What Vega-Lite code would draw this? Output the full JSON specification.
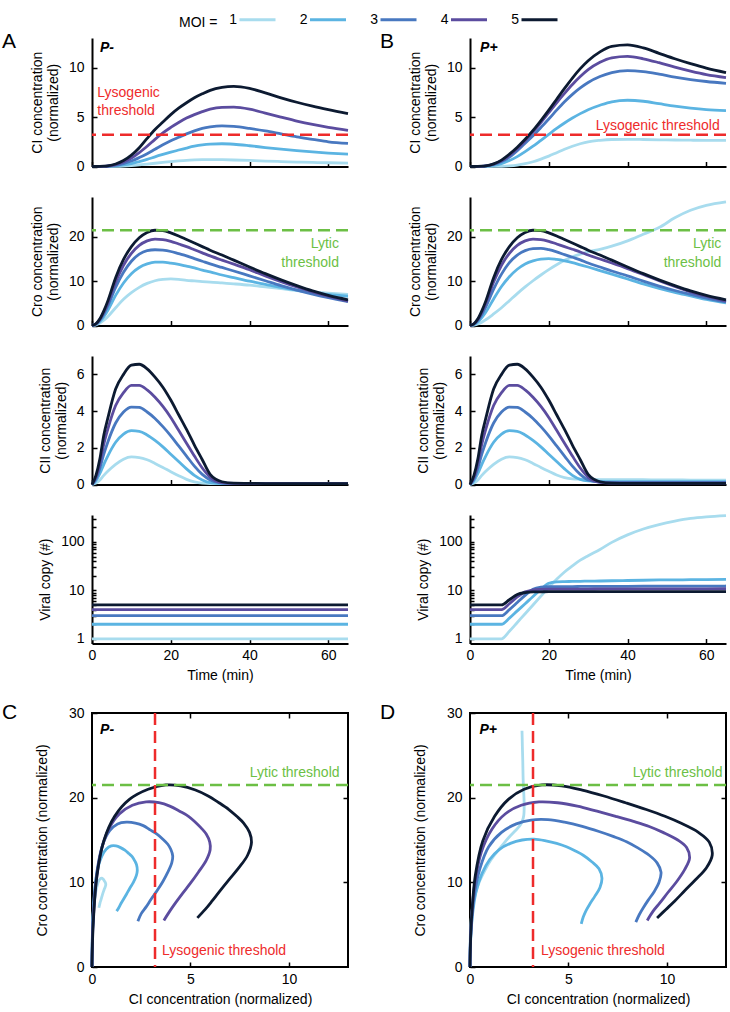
{
"$schema": "https://vega.github.io/schema/vega-lite/v6.json",
"padding": {"left": 1, "top": 0, "right": 3, "bottom": 3},
"config": {
  "font": "Liberation Sans",
  "view": {"stroke": null},
  "axis": {"domainColor": "black", "domainWidth": 2, "tickColor": "black", "tickWidth": 1.5, "tickSize": -5, "labelFontSize": 14, "labelColor": "black", "labelPadding": 13, "labelFlush": false, "titleFontSize": 14, "titleFontWeight": "normal", "titleColor": "black", "titlePadding": 8, "grid": false},
  "axisX": {"labelPadding": 10, "titlePadding": 6},
  "legend": {"orient": "none", "legendX": 87, "legendY": -38, "direction": "horizontal", "titleOrient": "left", "titleAnchor": "middle", "titleBaseline": "line-top", "titleLineHeight": 19.5, "titleFontSize": 14, "titleFontWeight": "normal", "titleColor": "black", "titlePadding": 20, "labelFontSize": 14, "labelColor": "black", "labelAlign": "right", "labelOffset": -40, "symbolType": "stroke", "symbolSize": 1296, "symbolStrokeWidth": 3, "columnPadding": 17.5, "padding": 0},
  "title": {"fontSize": 21, "fontWeight": "normal", "color": "black", "anchor": "start", "frame": "group"}
},
"datasets": {
"pm": [
{"m":1,"t":0,"ci":0,"cro":0,"cii":0,"v":1},{"m":1,"t":1,"ci":0,"cro":0.15,"cii":0.08,"v":1},{"m":1,"t":2,"ci":0,"cro":0.55,"cii":0.25,"v":1},{"m":1,"t":3,"ci":0.001,"cro":1.2,"cii":0.5,"v":1},{"m":1,"t":4,"ci":0.005,"cro":2.0,"cii":0.72,"v":1},{"m":1,"t":6,"ci":0.02,"cro":4.0,"cii":1.1,"v":1},{"m":1,"t":8,"ci":0.05,"cro":5.9,"cii":1.38,"v":1},{"m":1,"t":10,"ci":0.1,"cro":7.4,"cii":1.5,"v":1},{"m":1,"t":12,"ci":0.17,"cro":8.6,"cii":1.47,"v":1},{"m":1,"t":14,"ci":0.25,"cro":9.5,"cii":1.35,"v":1},{"m":1,"t":16,"ci":0.33,"cro":10.1,"cii":1.15,"v":1},{"m":1,"t":18,"ci":0.41,"cro":10.4,"cii":0.93,"v":1},{"m":1,"t":20,"ci":0.49,"cro":10.5,"cii":0.7,"v":1},{"m":1,"t":22,"ci":0.56,"cro":10.4,"cii":0.48,"v":1},{"m":1,"t":24,"ci":0.62,"cro":10.2,"cii":0.28,"v":1},{"m":1,"t":26,"ci":0.66,"cro":10.05,"cii":0.14,"v":1},{"m":1,"t":28,"ci":0.69,"cro":9.9,"cii":0.07,"v":1},{"m":1,"t":30,"ci":0.7,"cro":9.8,"cii":0.05,"v":1},{"m":1,"t":33,"ci":0.69,"cro":9.6,"cii":0.05,"v":1},{"m":1,"t":36,"ci":0.66,"cro":9.4,"cii":0.05,"v":1},{"m":1,"t":40,"ci":0.61,"cro":9.1,"cii":0.05,"v":1},{"m":1,"t":44,"ci":0.55,"cro":8.7,"cii":0.05,"v":1},{"m":1,"t":48,"ci":0.5,"cro":8.3,"cii":0.05,"v":1},{"m":1,"t":52,"ci":0.45,"cro":7.9,"cii":0.05,"v":1},{"m":1,"t":56,"ci":0.41,"cro":7.6,"cii":0.05,"v":1},{"m":1,"t":60,"ci":0.38,"cro":7.3,"cii":0.05,"v":1},{"m":1,"t":65,"ci":0.35,"cro":7.0,"cii":0.05,"v":1},
{"m":2,"t":0,"ci":0,"cro":0,"cii":0,"v":2},{"m":2,"t":1,"ci":0,"cro":0.25,"cii":0.2,"v":2},{"m":2,"t":2,"ci":0.002,"cro":0.9,"cii":0.6,"v":2},{"m":2,"t":3,"ci":0.008,"cro":2.0,"cii":1.1,"v":2},{"m":2,"t":4,"ci":0.02,"cro":3.4,"cii":1.55,"v":2},{"m":2,"t":6,"ci":0.07,"cro":6.8,"cii":2.3,"v":2},{"m":2,"t":8,"ci":0.16,"cro":9.6,"cii":2.75,"v":2},{"m":2,"t":10,"ci":0.3,"cro":11.7,"cii":2.93,"v":2},{"m":2,"t":12,"ci":0.5,"cro":13.1,"cii":2.9,"v":2},{"m":2,"t":14,"ci":0.72,"cro":13.9,"cii":2.7,"v":2},{"m":2,"t":16,"ci":0.98,"cro":14.3,"cii":2.4,"v":2},{"m":2,"t":18,"ci":1.22,"cro":14.3,"cii":2.05,"v":2},{"m":2,"t":20,"ci":1.45,"cro":14.1,"cii":1.65,"v":2},{"m":2,"t":22,"ci":1.67,"cro":13.8,"cii":1.25,"v":2},{"m":2,"t":24,"ci":1.87,"cro":13.4,"cii":0.85,"v":2},{"m":2,"t":26,"ci":2.05,"cro":13.0,"cii":0.5,"v":2},{"m":2,"t":28,"ci":2.18,"cro":12.5,"cii":0.25,"v":2},{"m":2,"t":30,"ci":2.26,"cro":12.1,"cii":0.1,"v":2},{"m":2,"t":33,"ci":2.3,"cro":11.4,"cii":0.05,"v":2},{"m":2,"t":36,"ci":2.25,"cro":10.8,"cii":0.05,"v":2},{"m":2,"t":40,"ci":2.1,"cro":10.0,"cii":0.05,"v":2},{"m":2,"t":44,"ci":1.92,"cro":9.3,"cii":0.05,"v":2},{"m":2,"t":48,"ci":1.75,"cro":8.6,"cii":0.05,"v":2},{"m":2,"t":52,"ci":1.6,"cro":8.0,"cii":0.05,"v":2},{"m":2,"t":56,"ci":1.47,"cro":7.5,"cii":0.05,"v":2},{"m":2,"t":60,"ci":1.36,"cro":7.0,"cii":0.05,"v":2},{"m":2,"t":65,"ci":1.25,"cro":6.6,"cii":0.05,"v":2},
{"m":3,"t":0,"ci":0,"cro":0,"cii":0,"v":3},{"m":3,"t":1,"ci":0,"cro":0.3,"cii":0.3,"v":3},{"m":3,"t":2,"ci":0.003,"cro":1.2,"cii":0.9,"v":3},{"m":3,"t":3,"ci":0.012,"cro":2.6,"cii":1.65,"v":3},{"m":3,"t":4,"ci":0.03,"cro":4.4,"cii":2.3,"v":3},{"m":3,"t":6,"ci":0.13,"cro":8.6,"cii":3.35,"v":3},{"m":3,"t":8,"ci":0.3,"cro":12.0,"cii":3.95,"v":3},{"m":3,"t":10,"ci":0.55,"cro":14.5,"cii":4.22,"v":3},{"m":3,"t":12,"ci":0.9,"cro":16.1,"cii":4.2,"v":3},{"m":3,"t":14,"ci":1.3,"cro":16.9,"cii":3.95,"v":3},{"m":3,"t":16,"ci":1.75,"cro":17.1,"cii":3.6,"v":3},{"m":3,"t":18,"ci":2.2,"cro":17.0,"cii":3.15,"v":3},{"m":3,"t":20,"ci":2.6,"cro":16.7,"cii":2.65,"v":3},{"m":3,"t":22,"ci":2.95,"cro":16.2,"cii":2.1,"v":3},{"m":3,"t":24,"ci":3.3,"cro":15.7,"cii":1.55,"v":3},{"m":3,"t":26,"ci":3.6,"cro":15.1,"cii":1.0,"v":3},{"m":3,"t":28,"ci":3.85,"cro":14.5,"cii":0.55,"v":3},{"m":3,"t":30,"ci":4.0,"cro":13.9,"cii":0.25,"v":3},{"m":3,"t":33,"ci":4.1,"cro":13.1,"cii":0.08,"v":3},{"m":3,"t":36,"ci":4.05,"cro":12.3,"cii":0.05,"v":3},{"m":3,"t":40,"ci":3.85,"cro":11.2,"cii":0.05,"v":3},{"m":3,"t":44,"ci":3.6,"cro":10.1,"cii":0.05,"v":3},{"m":3,"t":48,"ci":3.3,"cro":9.0,"cii":0.05,"v":3},{"m":3,"t":52,"ci":3.0,"cro":8.0,"cii":0.05,"v":3},{"m":3,"t":56,"ci":2.75,"cro":7.1,"cii":0.05,"v":3},{"m":3,"t":60,"ci":2.5,"cro":6.3,"cii":0.05,"v":3},{"m":3,"t":65,"ci":2.33,"cro":5.4,"cii":0.05,"v":3},
{"m":4,"t":0,"ci":0,"cro":0,"cii":0,"v":4},{"m":4,"t":1,"ci":0,"cro":0.35,"cii":0.4,"v":4},{"m":4,"t":2,"ci":0.005,"cro":1.35,"cii":1.15,"v":4},{"m":4,"t":3,"ci":0.02,"cro":3.0,"cii":2.2,"v":4},{"m":4,"t":4,"ci":0.05,"cro":5.0,"cii":3.0,"v":4},{"m":4,"t":6,"ci":0.2,"cro":9.8,"cii":4.3,"v":4},{"m":4,"t":8,"ci":0.45,"cro":13.6,"cii":5.0,"v":4},{"m":4,"t":10,"ci":0.85,"cro":16.3,"cii":5.4,"v":4},{"m":4,"t":12,"ci":1.4,"cro":18.1,"cii":5.4,"v":4},{"m":4,"t":14,"ci":2.05,"cro":19.1,"cii":5.15,"v":4},{"m":4,"t":16,"ci":2.75,"cro":19.5,"cii":4.75,"v":4},{"m":4,"t":18,"ci":3.4,"cro":19.4,"cii":4.25,"v":4},{"m":4,"t":20,"ci":3.95,"cro":19.0,"cii":3.65,"v":4},{"m":4,"t":22,"ci":4.45,"cro":18.4,"cii":2.95,"v":4},{"m":4,"t":24,"ci":4.9,"cro":17.8,"cii":2.25,"v":4},{"m":4,"t":26,"ci":5.25,"cro":17.1,"cii":1.55,"v":4},{"m":4,"t":28,"ci":5.55,"cro":16.4,"cii":0.9,"v":4},{"m":4,"t":30,"ci":5.8,"cro":15.7,"cii":0.4,"v":4},{"m":4,"t":33,"ci":5.98,"cro":14.75,"cii":0.1,"v":4},{"m":4,"t":36,"ci":6.0,"cro":13.85,"cii":0.06,"v":4},{"m":4,"t":40,"ci":5.8,"cro":12.6,"cii":0.05,"v":4},{"m":4,"t":44,"ci":5.4,"cro":11.2,"cii":0.05,"v":4},{"m":4,"t":48,"ci":5.0,"cro":9.9,"cii":0.05,"v":4},{"m":4,"t":52,"ci":4.6,"cro":8.7,"cii":0.05,"v":4},{"m":4,"t":56,"ci":4.25,"cro":7.6,"cii":0.05,"v":4},{"m":4,"t":60,"ci":3.95,"cro":6.6,"cii":0.05,"v":4},{"m":4,"t":65,"ci":3.65,"cro":5.5,"cii":0.05,"v":4},
{"m":5,"t":0,"ci":0,"cro":0,"cii":0,"v":5},{"m":5,"t":1,"ci":0,"cro":0.4,"cii":0.5,"v":5},{"m":5,"t":2,"ci":0.01,"cro":1.5,"cii":1.4,"v":5},{"m":5,"t":3,"ci":0.03,"cro":3.3,"cii":2.7,"v":5},{"m":5,"t":4,"ci":0.07,"cro":5.5,"cii":3.6,"v":5},{"m":5,"t":6,"ci":0.25,"cro":10.8,"cii":5.2,"v":5},{"m":5,"t":8,"ci":0.6,"cro":14.9,"cii":6.0,"v":5},{"m":5,"t":10,"ci":1.15,"cro":17.8,"cii":6.5,"v":5},{"m":5,"t":12,"ci":1.9,"cro":19.8,"cii":6.55,"v":5},{"m":5,"t":14,"ci":2.85,"cro":21.0,"cii":6.3,"v":5},{"m":5,"t":16,"ci":3.75,"cro":21.5,"cii":5.85,"v":5},{"m":5,"t":18,"ci":4.5,"cro":21.4,"cii":5.3,"v":5},{"m":5,"t":20,"ci":5.25,"cro":20.9,"cii":4.6,"v":5},{"m":5,"t":22,"ci":5.9,"cro":20.2,"cii":3.8,"v":5},{"m":5,"t":24,"ci":6.45,"cro":19.4,"cii":3.0,"v":5},{"m":5,"t":26,"ci":6.95,"cro":18.6,"cii":2.15,"v":5},{"m":5,"t":28,"ci":7.35,"cro":17.8,"cii":1.35,"v":5},{"m":5,"t":30,"ci":7.7,"cro":17.0,"cii":0.55,"v":5},{"m":5,"t":33,"ci":8.0,"cro":15.9,"cii":0.15,"v":5},{"m":5,"t":36,"ci":8.1,"cro":14.75,"cii":0.07,"v":5},{"m":5,"t":40,"ci":7.9,"cro":13.2,"cii":0.06,"v":5},{"m":5,"t":44,"ci":7.45,"cro":11.7,"cii":0.05,"v":5},{"m":5,"t":48,"ci":6.95,"cro":10.3,"cii":0.05,"v":5},{"m":5,"t":52,"ci":6.5,"cro":9.0,"cii":0.05,"v":5},{"m":5,"t":56,"ci":6.1,"cro":7.8,"cii":0.05,"v":5},{"m":5,"t":60,"ci":5.75,"cro":6.8,"cii":0.05,"v":5},{"m":5,"t":65,"ci":5.35,"cro":5.8,"cii":0.05,"v":5}
],
"pp": [
{"m":1,"t":0,"ci":0,"cro":0,"cii":0,"v":1},{"m":1,"t":1,"ci":0,"cro":0.1,"cii":0.08,"v":1},{"m":1,"t":2,"ci":0,"cro":0.35,"cii":0.25,"v":1},{"m":1,"t":3,"ci":0,"cro":0.75,"cii":0.5,"v":1},{"m":1,"t":4,"ci":0,"cro":1.3,"cii":0.72,"v":1},{"m":1,"t":6,"ci":0.005,"cro":2.6,"cii":1.1,"v":1},{"m":1,"t":8,"ci":0.02,"cro":4.0,"cii":1.38,"v":1},{"m":1,"t":10,"ci":0.06,"cro":5.6,"cii":1.5,"v":1.43},{"m":1,"t":12,"ci":0.14,"cro":7.2,"cii":1.47,"v":2.17},{"m":1,"t":14,"ci":0.28,"cro":8.7,"cii":1.35,"v":3.3},{"m":1,"t":16,"ci":0.48,"cro":10.1,"cii":1.15,"v":5.0},{"m":1,"t":18,"ci":0.75,"cro":11.4,"cii":0.93,"v":7.6},{"m":1,"t":20,"ci":1.05,"cro":12.6,"cii":0.72,"v":11.6},{"m":1,"t":22,"ci":1.4,"cro":13.7,"cii":0.52,"v":17},{"m":1,"t":24,"ci":1.75,"cro":14.7,"cii":0.38,"v":24},{"m":1,"t":26,"ci":2.05,"cro":15.5,"cii":0.31,"v":32},{"m":1,"t":28,"ci":2.3,"cro":16.1,"cii":0.29,"v":42},{"m":1,"t":30,"ci":2.5,"cro":16.6,"cii":0.28,"v":52},{"m":1,"t":33,"ci":2.65,"cro":17.2,"cii":0.27,"v":70},{"m":1,"t":36,"ci":2.73,"cro":17.9,"cii":0.27,"v":98},{"m":1,"t":40,"ci":2.75,"cro":19.1,"cii":0.26,"v":140},{"m":1,"t":44,"ci":2.73,"cro":20.6,"cii":0.26,"v":185},{"m":1,"t":48,"ci":2.7,"cro":22.1,"cii":0.25,"v":228},{"m":1,"t":52,"ci":2.68,"cro":24.3,"cii":0.25,"v":268},{"m":1,"t":56,"ci":2.66,"cro":26.0,"cii":0.24,"v":305},{"m":1,"t":60,"ci":2.65,"cro":27.1,"cii":0.24,"v":330},{"m":1,"t":65,"ci":2.64,"cro":27.9,"cii":0.23,"v":350},
{"m":2,"t":0,"ci":0,"cro":0,"cii":0,"v":2},{"m":2,"t":1,"ci":0,"cro":0.2,"cii":0.2,"v":2},{"m":2,"t":2,"ci":0.002,"cro":0.8,"cii":0.6,"v":2},{"m":2,"t":3,"ci":0.008,"cro":1.8,"cii":1.1,"v":2},{"m":2,"t":4,"ci":0.03,"cro":3.0,"cii":1.55,"v":2},{"m":2,"t":6,"ci":0.12,"cro":6.0,"cii":2.3,"v":2},{"m":2,"t":8,"ci":0.3,"cro":8.8,"cii":2.75,"v":2},{"m":2,"t":10,"ci":0.6,"cro":11.0,"cii":2.93,"v":2.67},{"m":2,"t":12,"ci":1.0,"cro":12.7,"cii":2.9,"v":3.77},{"m":2,"t":14,"ci":1.5,"cro":13.9,"cii":2.7,"v":5.3},{"m":2,"t":16,"ci":2.05,"cro":14.6,"cii":2.4,"v":7.5},{"m":2,"t":18,"ci":2.65,"cro":15.0,"cii":2.05,"v":10.5},{"m":2,"t":20,"ci":3.25,"cro":15.1,"cii":1.65,"v":14.0},{"m":2,"t":22,"ci":3.85,"cro":14.9,"cii":1.25,"v":15.0},{"m":2,"t":24,"ci":4.4,"cro":14.6,"cii":0.85,"v":15.2},{"m":2,"t":26,"ci":4.9,"cro":14.2,"cii":0.5,"v":15.3},{"m":2,"t":28,"ci":5.35,"cro":13.7,"cii":0.28,"v":15.4},{"m":2,"t":30,"ci":5.75,"cro":13.2,"cii":0.2,"v":15.5},{"m":2,"t":33,"ci":6.2,"cro":12.4,"cii":0.17,"v":15.6},{"m":2,"t":36,"ci":6.55,"cro":11.6,"cii":0.16,"v":15.8},{"m":2,"t":40,"ci":6.7,"cro":10.5,"cii":0.16,"v":16.0},{"m":2,"t":44,"ci":6.6,"cro":9.4,"cii":0.15,"v":16.2},{"m":2,"t":48,"ci":6.35,"cro":8.4,"cii":0.15,"v":16.4},{"m":2,"t":52,"ci":6.1,"cro":7.5,"cii":0.15,"v":16.5},{"m":2,"t":56,"ci":5.9,"cro":6.7,"cii":0.15,"v":16.6},{"m":2,"t":60,"ci":5.75,"cro":5.9,"cii":0.15,"v":16.7},{"m":2,"t":65,"ci":5.65,"cro":5.1,"cii":0.15,"v":16.8},
{"m":3,"t":0,"ci":0,"cro":0,"cii":0,"v":3},{"m":3,"t":1,"ci":0,"cro":0.3,"cii":0.3,"v":3},{"m":3,"t":2,"ci":0.003,"cro":1.15,"cii":0.9,"v":3},{"m":3,"t":3,"ci":0.015,"cro":2.5,"cii":1.65,"v":3},{"m":3,"t":4,"ci":0.05,"cro":4.2,"cii":2.3,"v":3},{"m":3,"t":6,"ci":0.2,"cro":8.2,"cii":3.35,"v":3},{"m":3,"t":8,"ci":0.5,"cro":11.6,"cii":3.95,"v":3},{"m":3,"t":10,"ci":0.95,"cro":14.2,"cii":4.22,"v":4.0},{"m":3,"t":12,"ci":1.6,"cro":15.9,"cii":4.2,"v":5.6},{"m":3,"t":14,"ci":2.35,"cro":16.9,"cii":3.95,"v":7.9},{"m":3,"t":16,"ci":3.1,"cro":17.35,"cii":3.6,"v":10.5},{"m":3,"t":18,"ci":3.95,"cro":17.4,"cii":3.15,"v":11.6},{"m":3,"t":20,"ci":4.8,"cro":17.1,"cii":2.65,"v":11.9},{"m":3,"t":22,"ci":5.7,"cro":16.6,"cii":2.1,"v":12.0},{"m":3,"t":24,"ci":6.55,"cro":16.0,"cii":1.55,"v":12.0},{"m":3,"t":26,"ci":7.3,"cro":15.4,"cii":1.0,"v":12.0},{"m":3,"t":28,"ci":7.95,"cro":14.8,"cii":0.55,"v":12.05},{"m":3,"t":30,"ci":8.5,"cro":14.1,"cii":0.25,"v":12.1},{"m":3,"t":33,"ci":9.1,"cro":13.2,"cii":0.13,"v":12.1},{"m":3,"t":36,"ci":9.5,"cro":12.3,"cii":0.11,"v":12.1},{"m":3,"t":40,"ci":9.7,"cro":11.2,"cii":0.11,"v":12.15},{"m":3,"t":44,"ci":9.6,"cro":10.0,"cii":0.11,"v":12.2},{"m":3,"t":48,"ci":9.35,"cro":8.9,"cii":0.11,"v":12.2},{"m":3,"t":52,"ci":9.05,"cro":7.9,"cii":0.11,"v":12.2},{"m":3,"t":56,"ci":8.8,"cro":7.0,"cii":0.11,"v":12.25},{"m":3,"t":60,"ci":8.6,"cro":6.2,"cii":0.11,"v":12.25},{"m":3,"t":65,"ci":8.42,"cro":5.3,"cii":0.11,"v":12.3},
{"m":4,"t":0,"ci":0,"cro":0,"cii":0,"v":4},{"m":4,"t":1,"ci":0,"cro":0.35,"cii":0.4,"v":4},{"m":4,"t":2,"ci":0.005,"cro":1.35,"cii":1.15,"v":4},{"m":4,"t":3,"ci":0.02,"cro":3.0,"cii":2.2,"v":4},{"m":4,"t":4,"ci":0.06,"cro":5.0,"cii":3.0,"v":4},{"m":4,"t":6,"ci":0.24,"cro":9.8,"cii":4.3,"v":4},{"m":4,"t":8,"ci":0.58,"cro":13.6,"cii":5.0,"v":4},{"m":4,"t":10,"ci":1.12,"cro":16.3,"cii":5.4,"v":5.3},{"m":4,"t":12,"ci":1.8,"cro":18.1,"cii":5.4,"v":7.3},{"m":4,"t":14,"ci":2.6,"cro":19.1,"cii":5.15,"v":9.3},{"m":4,"t":16,"ci":3.5,"cro":19.5,"cii":4.75,"v":10.2},{"m":4,"t":18,"ci":4.45,"cro":19.4,"cii":4.25,"v":10.5},{"m":4,"t":20,"ci":5.45,"cro":19.0,"cii":3.65,"v":10.6},{"m":4,"t":22,"ci":6.45,"cro":18.4,"cii":2.95,"v":10.6},{"m":4,"t":24,"ci":7.4,"cro":17.8,"cii":2.25,"v":10.6},{"m":4,"t":26,"ci":8.3,"cro":17.2,"cii":1.55,"v":10.6},{"m":4,"t":28,"ci":9.1,"cro":16.6,"cii":0.9,"v":10.65},{"m":4,"t":30,"ci":9.8,"cro":15.9,"cii":0.4,"v":10.65},{"m":4,"t":33,"ci":10.55,"cro":15.0,"cii":0.12,"v":10.7},{"m":4,"t":36,"ci":11.0,"cro":14.1,"cii":0.08,"v":10.7},{"m":4,"t":40,"ci":11.15,"cro":12.85,"cii":0.08,"v":10.7},{"m":4,"t":44,"ci":10.9,"cro":11.5,"cii":0.08,"v":10.7},{"m":4,"t":48,"ci":10.5,"cro":10.1,"cii":0.08,"v":10.7},{"m":4,"t":52,"ci":10.05,"cro":8.8,"cii":0.08,"v":10.75},{"m":4,"t":56,"ci":9.65,"cro":7.6,"cii":0.08,"v":10.75},{"m":4,"t":60,"ci":9.3,"cro":6.6,"cii":0.08,"v":10.75},{"m":4,"t":65,"ci":9.0,"cro":5.5,"cii":0.08,"v":10.8},
{"m":5,"t":0,"ci":0,"cro":0,"cii":0,"v":5},{"m":5,"t":1,"ci":0,"cro":0.4,"cii":0.5,"v":5},{"m":5,"t":2,"ci":0.01,"cro":1.5,"cii":1.4,"v":5},{"m":5,"t":3,"ci":0.03,"cro":3.3,"cii":2.7,"v":5},{"m":5,"t":4,"ci":0.07,"cro":5.5,"cii":3.6,"v":5},{"m":5,"t":6,"ci":0.27,"cro":10.8,"cii":5.2,"v":5},{"m":5,"t":8,"ci":0.65,"cro":14.9,"cii":6.0,"v":5},{"m":5,"t":10,"ci":1.25,"cro":17.8,"cii":6.5,"v":6.4},{"m":5,"t":12,"ci":1.95,"cro":19.8,"cii":6.55,"v":8.2},{"m":5,"t":14,"ci":2.75,"cro":21.0,"cii":6.3,"v":9.0},{"m":5,"t":16,"ci":3.65,"cro":21.5,"cii":5.85,"v":9.3},{"m":5,"t":18,"ci":4.65,"cro":21.4,"cii":5.3,"v":9.35},{"m":5,"t":20,"ci":5.7,"cro":20.9,"cii":4.6,"v":9.4},{"m":5,"t":22,"ci":6.8,"cro":20.2,"cii":3.8,"v":9.4},{"m":5,"t":24,"ci":7.9,"cro":19.4,"cii":3.0,"v":9.4},{"m":5,"t":26,"ci":8.95,"cro":18.6,"cii":2.15,"v":9.4},{"m":5,"t":28,"ci":9.9,"cro":17.8,"cii":1.35,"v":9.4},{"m":5,"t":30,"ci":10.7,"cro":17.0,"cii":0.55,"v":9.4},{"m":5,"t":33,"ci":11.6,"cro":15.9,"cii":0.15,"v":9.4},{"m":5,"t":36,"ci":12.15,"cro":14.75,"cii":0.07,"v":9.4},{"m":5,"t":40,"ci":12.3,"cro":13.2,"cii":0.06,"v":9.4},{"m":5,"t":44,"ci":12.0,"cro":11.7,"cii":0.06,"v":9.4},{"m":5,"t":48,"ci":11.45,"cro":10.3,"cii":0.06,"v":9.4},{"m":5,"t":52,"ci":10.9,"cro":9.0,"cii":0.06,"v":9.4},{"m":5,"t":56,"ci":10.4,"cro":7.8,"cii":0.06,"v":9.4},{"m":5,"t":60,"ci":9.95,"cro":6.8,"cii":0.06,"v":9.4},{"m":5,"t":65,"ci":9.5,"cro":5.8,"cii":0.06,"v":9.4}
]
},
"spacing": 18,
"vconcat": [
{"columns": 2, "bounds": "flush", "spacing": {"row": 30, "column": 122},
 "concat": [
{"width": 256, "height": 128.5,
 "title": {"text": "A", "dx": -90, "dy": 31, "offset": 0, "baseline": "alphabetic"},
 "resolve": {"axis": {"x": "independent", "y": "independent"}},
 "layer": [
  {"data": {"name": "pm"}, "mark": {"type": "line", "interpolate": "monotone", "strokeWidth": 2.8},
   "encoding": {"x": {"field": "t", "type": "quantitative", "scale": {"domain": [0, 65], "nice": false}, "axis": {"values": [0, 20, 40, 60], "labels": false, "title": null}},
    "y": {"field": "ci", "type": "quantitative", "scale": {"domain": [0, 13], "nice": false}, "axis": {"values": [0, 5, 10], "title": ["CI concentration", "(normalized)"]}},
    "color": {"field": "m", "type": "ordinal", "title": "MOI =", "scale": {"domain": [1, 2, 3, 4, 5], "range": ["#a8dcee", "#5bb4e2", "#4878c0", "#5b4c9f", "#0c1a31"]}}}},
  {"data": {"values": [{}]}, "mark": {"type": "rule", "color": "#ee2b2b", "strokeWidth": 2.5, "strokeDash": [12, 6]}, "encoding": {"y": {"datum": 3.2, "axis": null}}},
  {"data": {"values": [{"t": 1.35, "ci": 7.02, "s": "Lysogenic"}, {"t": 1.35, "ci": 5.18, "s": "threshold"}]}, "mark": {"type": "text", "align": "left", "baseline": "alphabetic", "color": "#ee2b2b", "fontSize": 14}, "encoding": {"x": {"field": "t", "type": "quantitative", "axis": null}, "y": {"field": "ci", "type": "quantitative", "axis": null}, "text": {"field": "s"}}},
  {"data": {"values": [{"t": 2, "ci": 11.58, "s": "P-"}]}, "mark": {"type": "text", "align": "left", "baseline": "alphabetic", "fontSize": 14, "fontWeight": "bold", "fontStyle": "italic", "color": "black"}, "encoding": {"x": {"field": "t", "type": "quantitative", "axis": null}, "y": {"field": "ci", "type": "quantitative", "axis": null}, "text": {"field": "s"}}}
 ]},
{"width": 256, "height": 128.5,
 "title": {"text": "B", "dx": -90, "dy": 31, "offset": 0, "baseline": "alphabetic"},
 "resolve": {"axis": {"x": "independent", "y": "independent"}},
 "layer": [
  {"data": {"name": "pp"}, "mark": {"type": "line", "interpolate": "monotone", "strokeWidth": 2.8},
   "encoding": {"x": {"field": "t", "type": "quantitative", "scale": {"domain": [0, 65], "nice": false}, "axis": {"values": [0, 20, 40, 60], "labels": false, "title": null}},
    "y": {"field": "ci", "type": "quantitative", "scale": {"domain": [0, 13], "nice": false}, "axis": {"values": [0, 5, 10], "title": ["CI concentration", "(normalized)"]}},
    "color": {"field": "m", "type": "ordinal", "title": "MOI =", "scale": {"domain": [1, 2, 3, 4, 5], "range": ["#a8dcee", "#5bb4e2", "#4878c0", "#5b4c9f", "#0c1a31"]}}}},
  {"data": {"values": [{}]}, "mark": {"type": "rule", "color": "#ee2b2b", "strokeWidth": 2.5, "strokeDash": [12, 6]}, "encoding": {"y": {"datum": 3.2, "axis": null}}},
  {"data": {"values": [{"t": 63.4, "ci": 3.7, "s": "Lysogenic threshold"}]}, "mark": {"type": "text", "align": "right", "baseline": "alphabetic", "color": "#ee2b2b", "fontSize": 14}, "encoding": {"x": {"field": "t", "type": "quantitative", "axis": null}, "y": {"field": "ci", "type": "quantitative", "axis": null}, "text": {"field": "s"}}},
  {"data": {"values": [{"t": 2.55, "ci": 11.58, "s": "P+"}]}, "mark": {"type": "text", "align": "left", "baseline": "alphabetic", "fontSize": 14, "fontWeight": "bold", "fontStyle": "italic", "color": "black"}, "encoding": {"x": {"field": "t", "type": "quantitative", "axis": null}, "y": {"field": "ci", "type": "quantitative", "axis": null}, "text": {"field": "s"}}}
 ]},
{"width": 256, "height": 128.5,
 "resolve": {"axis": {"x": "independent", "y": "independent"}},
 "layer": [
  {"data": {"name": "pm"}, "mark": {"type": "line", "interpolate": "monotone", "strokeWidth": 2.8},
   "encoding": {"x": {"field": "t", "type": "quantitative", "scale": {"domain": [0, 65], "nice": false}, "axis": {"values": [0, 20, 40, 60], "labels": false, "title": null}},
    "y": {"field": "cro", "type": "quantitative", "scale": {"domain": [0, 29], "nice": false}, "axis": {"values": [0, 10, 20], "title": ["Cro concentration", "(normalized)"]}},
    "color": {"field": "m", "type": "ordinal", "title": "MOI =", "scale": {"domain": [1, 2, 3, 4, 5], "range": ["#a8dcee", "#5bb4e2", "#4878c0", "#5b4c9f", "#0c1a31"]}}}},
  {"data": {"values": [{}]}, "mark": {"type": "rule", "color": "#6cbf45", "strokeWidth": 2.5, "strokeDash": [12, 6]}, "encoding": {"y": {"datum": 21.5, "axis": null}}},
  {"data": {"values": [{"t": 62.7, "cro": 17.4, "s": "Lytic"}, {"t": 62.7, "cro": 13.3, "s": "threshold"}]}, "mark": {"type": "text", "align": "right", "baseline": "alphabetic", "color": "#6cbf45", "fontSize": 14}, "encoding": {"x": {"field": "t", "type": "quantitative", "axis": null}, "y": {"field": "cro", "type": "quantitative", "axis": null}, "text": {"field": "s"}}}
 ]},
{"width": 256, "height": 128.5,
 "resolve": {"axis": {"x": "independent", "y": "independent"}},
 "layer": [
  {"data": {"name": "pp"}, "mark": {"type": "line", "interpolate": "monotone", "strokeWidth": 2.8},
   "encoding": {"x": {"field": "t", "type": "quantitative", "scale": {"domain": [0, 65], "nice": false}, "axis": {"values": [0, 20, 40, 60], "labels": false, "title": null}},
    "y": {"field": "cro", "type": "quantitative", "scale": {"domain": [0, 29], "nice": false}, "axis": {"values": [0, 10, 20], "title": ["Cro concentration", "(normalized)"]}},
    "color": {"field": "m", "type": "ordinal", "title": "MOI =", "scale": {"domain": [1, 2, 3, 4, 5], "range": ["#a8dcee", "#5bb4e2", "#4878c0", "#5b4c9f", "#0c1a31"]}}}},
  {"data": {"values": [{}]}, "mark": {"type": "rule", "color": "#6cbf45", "strokeWidth": 2.5, "strokeDash": [12, 6]}, "encoding": {"y": {"datum": 21.5, "axis": null}}},
  {"data": {"values": [{"t": 63.8, "cro": 17.4, "s": "Lytic"}, {"t": 63.8, "cro": 13.3, "s": "threshold"}]}, "mark": {"type": "text", "align": "right", "baseline": "alphabetic", "color": "#6cbf45", "fontSize": 14}, "encoding": {"x": {"field": "t", "type": "quantitative", "axis": null}, "y": {"field": "cro", "type": "quantitative", "axis": null}, "text": {"field": "s"}}}
 ]},
{"width": 256, "height": 128.5, "data": {"name": "pm"}, "mark": {"type": "line", "interpolate": "monotone", "strokeWidth": 2.8},
 "encoding": {"x": {"field": "t", "type": "quantitative", "scale": {"domain": [0, 65], "nice": false}, "axis": {"values": [0, 20, 40, 60], "labels": false, "title": null}},
  "y": {"field": "cii", "type": "quantitative", "scale": {"domain": [0, 7], "nice": false}, "axis": {"values": [0, 2, 4, 6], "title": ["CII concentration", "(normalized)"]}},
  "color": {"field": "m", "type": "ordinal", "title": "MOI =", "scale": {"domain": [1, 2, 3, 4, 5], "range": ["#a8dcee", "#5bb4e2", "#4878c0", "#5b4c9f", "#0c1a31"]}}}},
{"width": 256, "height": 128.5, "data": {"name": "pp"}, "mark": {"type": "line", "interpolate": "monotone", "strokeWidth": 2.8},
 "encoding": {"x": {"field": "t", "type": "quantitative", "scale": {"domain": [0, 65], "nice": false}, "axis": {"values": [0, 20, 40, 60], "labels": false, "title": null}},
  "y": {"field": "cii", "type": "quantitative", "scale": {"domain": [0, 7], "nice": false}, "axis": {"values": [0, 2, 4, 6], "title": ["CII concentration", "(normalized)"]}},
  "color": {"field": "m", "type": "ordinal", "title": "MOI =", "scale": {"domain": [1, 2, 3, 4, 5], "range": ["#a8dcee", "#5bb4e2", "#4878c0", "#5b4c9f", "#0c1a31"]}}}},
{"width": 256, "height": 128.5, "data": {"name": "pm"}, "mark": {"type": "line", "interpolate": "monotone", "strokeWidth": 2.8},
 "encoding": {"x": {"field": "t", "type": "quantitative", "scale": {"domain": [0, 65], "nice": false}, "axis": {"values": [0, 20, 40, 60], "title": "Time (min)"}},
  "y": {"field": "v", "type": "quantitative", "scale": {"type": "log", "domain": [0.8, 360], "nice": false}, "axis": {"values": [1, 2, 3, 4, 5, 6, 7, 8, 9, 10, 20, 30, 40, 50, 60, 70, 80, 90, 100, 200, 300], "format": "d", "labelExpr": "datum.value == 1 || datum.value == 10 || datum.value == 100 ? datum.label : ''", "tickSize": -4, "labelPadding": 12, "title": "Viral copy (#)"}},
  "color": {"field": "m", "type": "ordinal", "title": "MOI =", "scale": {"domain": [1, 2, 3, 4, 5], "range": ["#a8dcee", "#5bb4e2", "#4878c0", "#5b4c9f", "#0c1a31"]}}}},
{"width": 256, "height": 128.5, "data": {"name": "pp"}, "mark": {"type": "line", "interpolate": "monotone", "strokeWidth": 2.8},
 "encoding": {"x": {"field": "t", "type": "quantitative", "scale": {"domain": [0, 65], "nice": false}, "axis": {"values": [0, 20, 40, 60], "title": "Time (min)"}},
  "y": {"field": "v", "type": "quantitative", "scale": {"type": "log", "domain": [0.8, 360], "nice": false}, "axis": {"values": [1, 2, 3, 4, 5, 6, 7, 8, 9, 10, 20, 30, 40, 50, 60, 70, 80, 90, 100, 200, 300], "format": "d", "labelExpr": "datum.value == 1 || datum.value == 10 || datum.value == 100 ? datum.label : ''", "tickSize": -4, "labelPadding": 12, "title": "Viral copy (#)"}},
  "color": {"field": "m", "type": "ordinal", "title": "MOI =", "scale": {"domain": [1, 2, 3, 4, 5], "range": ["#a8dcee", "#5bb4e2", "#4878c0", "#5b4c9f", "#0c1a31"]}}}}
 ]},
{"bounds": "flush", "spacing": 122,
 "hconcat": [
{"width": 256, "height": 254, "view": {"stroke": "black", "strokeWidth": 2},
 "title": {"text": "C", "dx": -90, "dy": 34, "offset": 0, "baseline": "alphabetic"},
 "resolve": {"axis": {"x": "independent", "y": "independent"}},
 "layer": [
  {"data": {"name": "pm"}, "mark": {"type": "line", "interpolate": "catmull-rom", "strokeWidth": 2.8},
   "encoding": {"x": {"field": "ci", "type": "quantitative", "scale": {"domain": [0, 13], "nice": false}, "axis": {"values": [0, 5, 10], "domain": false, "title": "CI concentration (normalized)"}},
    "y": {"field": "cro", "type": "quantitative", "scale": {"domain": [0, 30], "nice": false}, "axis": {"values": [0, 10, 20, 30], "domain": false, "titlePadding": 19, "title": "Cro concentration (normalized)"}},
    "order": {"field": "t", "type": "quantitative"},
    "color": {"field": "m", "type": "ordinal", "title": "MOI =", "scale": {"domain": [1, 2, 3, 4, 5], "range": ["#a8dcee", "#5bb4e2", "#4878c0", "#5b4c9f", "#0c1a31"]}}}},
  {"data": {"values": [{}]}, "mark": {"type": "rule", "color": "#ee2b2b", "strokeWidth": 2.5, "strokeDash": [12, 6]}, "encoding": {"x": {"datum": 3.2, "axis": null}}},
  {"data": {"values": [{}]}, "mark": {"type": "rule", "color": "#6cbf45", "strokeWidth": 2.5, "strokeDash": [12, 6]}, "encoding": {"y": {"datum": 21.5, "axis": null}}},
  {"data": {"values": [{"ci": 12.57, "cro": 22.4, "s": "Lytic threshold"}]}, "mark": {"type": "text", "align": "right", "baseline": "alphabetic", "color": "#6cbf45", "fontSize": 14},
   "encoding": {"x": {"field": "ci", "type": "quantitative", "axis": {"orient": "top", "labels": false, "domain": false, "title": null, "values": [5, 10]}}, "y": {"field": "cro", "type": "quantitative", "axis": {"orient": "right", "labels": false, "domain": false, "title": null, "values": [10, 20]}}, "text": {"field": "s"}}},
  {"data": {"values": [{"ci": 3.56, "cro": 1.37, "s": "Lysogenic threshold"}]}, "mark": {"type": "text", "align": "left", "baseline": "alphabetic", "color": "#ee2b2b", "fontSize": 14}, "encoding": {"x": {"field": "ci", "type": "quantitative", "axis": null}, "y": {"field": "cro", "type": "quantitative", "axis": null}, "text": {"field": "s"}}},
  {"data": {"values": [{"ci": 0.41, "cro": 27.5, "s": "P-"}]}, "mark": {"type": "text", "align": "left", "baseline": "alphabetic", "fontSize": 14, "fontWeight": "bold", "fontStyle": "italic", "color": "black"}, "encoding": {"x": {"field": "ci", "type": "quantitative", "axis": null}, "y": {"field": "cro", "type": "quantitative", "axis": null}, "text": {"field": "s"}}}
 ]},
{"width": 256, "height": 254, "view": {"stroke": "black", "strokeWidth": 2},
 "title": {"text": "D", "dx": -90, "dy": 34, "offset": 0, "baseline": "alphabetic"},
 "resolve": {"axis": {"x": "independent", "y": "independent"}},
 "layer": [
  {"data": {"name": "pp"}, "mark": {"type": "line", "interpolate": "catmull-rom", "strokeWidth": 2.8},
   "encoding": {"x": {"field": "ci", "type": "quantitative", "scale": {"domain": [0, 13], "nice": false}, "axis": {"values": [0, 5, 10], "domain": false, "title": "CI concentration (normalized)"}},
    "y": {"field": "cro", "type": "quantitative", "scale": {"domain": [0, 30], "nice": false}, "axis": {"values": [0, 10, 20, 30], "domain": false, "titlePadding": 19, "title": "Cro concentration (normalized)"}},
    "order": {"field": "t", "type": "quantitative"},
    "color": {"field": "m", "type": "ordinal", "title": "MOI =", "scale": {"domain": [1, 2, 3, 4, 5], "range": ["#a8dcee", "#5bb4e2", "#4878c0", "#5b4c9f", "#0c1a31"]}}}},
  {"data": {"values": [{}]}, "mark": {"type": "rule", "color": "#ee2b2b", "strokeWidth": 2.5, "strokeDash": [12, 6]}, "encoding": {"x": {"datum": 3.2, "axis": null}}},
  {"data": {"values": [{}]}, "mark": {"type": "rule", "color": "#6cbf45", "strokeWidth": 2.5, "strokeDash": [12, 6]}, "encoding": {"y": {"datum": 21.5, "axis": null}}},
  {"data": {"values": [{"ci": 12.82, "cro": 22.4, "s": "Lytic threshold"}]}, "mark": {"type": "text", "align": "right", "baseline": "alphabetic", "color": "#6cbf45", "fontSize": 14},
   "encoding": {"x": {"field": "ci", "type": "quantitative", "axis": {"orient": "top", "labels": false, "domain": false, "title": null, "values": [5, 10]}}, "y": {"field": "cro", "type": "quantitative", "axis": {"orient": "right", "labels": false, "domain": false, "title": null, "values": [10, 20]}}, "text": {"field": "s"}}},
  {"data": {"values": [{"ci": 3.6, "cro": 1.37, "s": "Lysogenic threshold"}]}, "mark": {"type": "text", "align": "left", "baseline": "alphabetic", "color": "#ee2b2b", "fontSize": 14}, "encoding": {"x": {"field": "ci", "type": "quantitative", "axis": null}, "y": {"field": "cro", "type": "quantitative", "axis": null}, "text": {"field": "s"}}},
  {"data": {"values": [{"ci": 0.48, "cro": 27.5, "s": "P+"}]}, "mark": {"type": "text", "align": "left", "baseline": "alphabetic", "fontSize": 14, "fontWeight": "bold", "fontStyle": "italic", "color": "black"}, "encoding": {"x": {"field": "ci", "type": "quantitative", "axis": null}, "y": {"field": "cro", "type": "quantitative", "axis": null}, "text": {"field": "s"}}}
 ]}
 ]}
]
}
